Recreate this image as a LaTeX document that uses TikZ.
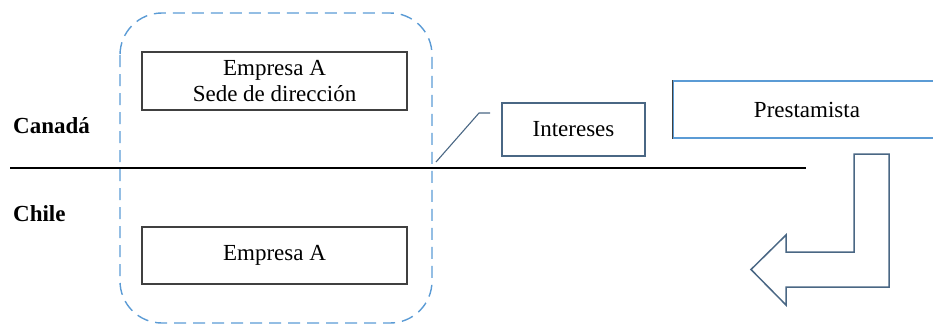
\documentclass[tikz,border=0pt]{standalone}
\usepackage{fontspec}
\setmainfont{Liberation Serif}
\definecolor{dashblue}{HTML}{5B9BD5}
\definecolor{boxgray}{HTML}{404040}
\definecolor{arrowslate}{HTML}{4A6784}
\tikzset{
  box/.style={draw=boxgray,line width=1.2pt,align=center,inner sep=0pt},
  country/.style={font=\fontsize{23}{27}\selectfont\bfseries,anchor=base west,inner sep=0pt}
}
\begin{document}
\begin{tikzpicture}[x=1pt,y=-1pt,font=\fontsize{23}{26}\selectfont]
  \useasboundingbox (0,0) rectangle (933,325);

  % grupo empresa A
  \draw[dashblue,line width=1.4pt,dash pattern=on 12pt off 7pt,rounded corners=42pt] (120,13) rectangle (432,323);
  \node[box,minimum width=265pt,minimum height=58pt] (hq) at (274.5,81) {Empresa A\\Sede de dirección};
  \node[box,minimum width=265pt,minimum height=57pt] (sub) at (274.5,255.5) {Empresa A};

  % frontera
  \draw[line width=2.6pt] (10,168) -- (806,168);
  \node[country] (ca) at (13,133) {Canadá};
  \node[country] (cl) at (13,221) {Chile};

  \node[box,draw=arrowslate,minimum width=143pt,minimum height=53pt] (int) at (573.5,129.5) {Intereses};
  \coordinate (tip) at (436,162);
  \coordinate (knee) at (479,113);
  \coordinate (end) at (490,113);
  \draw[arrowslate,line width=1.1pt] (tip) -- (knee) -- (end);

  \node[box,draw=dashblue,minimum width=268pt,minimum height=57pt] (lend) at (807,109.5) {Prestamista};
  \draw[boxgray,line width=1.2pt] (lend.north west) -- (lend.south west);

  % flecha de pago
  \draw[arrowslate,line width=1.5pt] (889,154) -- (889,287) -- (786,287) -- (786,305) -- (751,269.5)
    -- (786,235) -- (786,252) -- (854,252) -- (854,154) -- cycle;
\end{tikzpicture}
\end{document}
